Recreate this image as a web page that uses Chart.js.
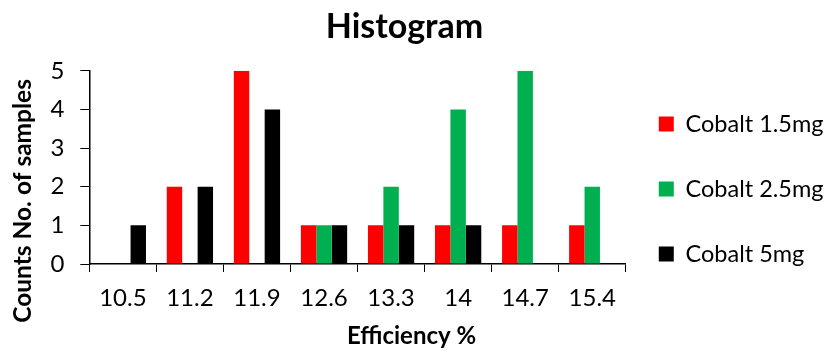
<!DOCTYPE html>
<html>
<head>
<meta charset="utf-8">
<script src="https://cdn.jsdelivr.net/npm/chart.js@4/dist/chart.umd.min.js"></script>
<style>
  html, body { margin: 0; padding: 0; background: #ffffff; }
  #wrap { width: 830px; height: 351px; }
</style>
</head>
<body>
<div id="wrap"><canvas id="c" width="830" height="351"></canvas></div>
<script>
// Efficiency bins (x categories)
const categories = ['10.5', '11.2', '11.9', '12.6', '13.3', '14', '14.7', '15.4'];

// Sample counts per bin for each cobalt loading
const cobalt15 = [0, 2, 5, 1, 1, 1, 1, 1];
const cobalt25 = [0, 0, 0, 1, 2, 4, 5, 2];
const cobalt5  = [1, 2, 4, 1, 1, 1, 0, 0];

const seriesNames = ['Cobalt 1.5mg', 'Cobalt 2.5mg', 'Cobalt 5mg'];
const yTicks = [0, 1, 2, 3, 4, 5];

const FONT = 'Lato, "Open Sans", sans-serif';
const INK = '#000000';

// Titles are centred on the whole figure rather than on the plot box,
// so they carry a little blank spacing on one side.
const EM = '\u2003', EN = '\u2002', THIN = '\u2009';

new Chart(document.getElementById('c'), {
  type: 'bar',
  data: {
    labels: categories,
    datasets: [
      { label: seriesNames[0], data: cobalt15, backgroundColor: '#FF0000' },
      { label: seriesNames[1], data: cobalt25, backgroundColor: '#00B050' },
      { label: seriesNames[2], data: cobalt5,  backgroundColor: '#000000' }
    ]
  },
  options: {
    responsive: false,
    devicePixelRatio: 1,
    animation: false,
    datasets: { bar: { categoryPercentage: 0.69, barPercentage: 1.0, borderWidth: 0 } },
    layout: { padding: { left: 1, right: -3.5, top: 0, bottom: 0 } },
    plugins: {
      tooltip: { enabled: false },
      title: {
        display: true,
        text: 'Histogram' + EN + THIN + THIN,
        color: INK,
        font: { family: FONT, size: 34, weight: 'bold', lineHeight: 1.2 },
        padding: { top: 7, bottom: 23 }
      },
      legend: {
        position: 'right',
        align: 'center',
        title: { display: true, text: '', font: { size: 10, lineHeight: 1.2 }, padding: { top: 0, bottom: 23.5 } },
        labels: {
          color: INK,
          boxWidth: 15,
          boxHeight: 15,
          padding: 33,
          font: { family: FONT, size: 23.5, lineHeight: 32 / 23.5 },
          generateLabels(chart) {
            const items = Chart.defaults.plugins.legend.labels.generateLabels(chart);
            // one-line arrays so each entry takes the font's line height
            return items.map(it => Object.assign(it, { text: [it.text], lineWidth: 0 }));
          }
        }
      }
    },
    scales: {
      x: {
        offset: true,
        grid: {
          offset: true,
          drawOnChartArea: false,
          drawTicks: true,
          tickLength: 8,
          color: INK,
          lineWidth: 1
        },
        border: { display: true, color: INK, width: 1.5 },
        ticks: {
          color: INK,
          padding: 12,
          font: { family: FONT, size: 24 }
        },
        title: {
          display: true,
          text: EM + EM + EM + EM + EM + EM + 'Efficiency %',
          color: INK,
          font: { family: FONT, size: 24, weight: 'bold' },
          padding: { top: -2.6, bottom: 0 }
        }
      },
      y: {
        min: 0,
        max: 5,
        afterBuildTicks(scale) { scale.ticks = yTicks.map(v => ({ value: v })); },
        grid: {
          drawOnChartArea: false,
          drawTicks: true,
          tickLength: 9,
          color: INK,
          lineWidth: 1
        },
        border: { display: true, color: INK, width: 1.5 },
        ticks: {
          color: INK,
          padding: 16,
          font: { family: FONT, size: 24 }
        },
        title: {
          display: true,
          text: 'Counts No. of samples' + EM + EM + EM + '  ',
          color: INK,
          font: { family: FONT, size: 24.5, weight: 'bold' },
          padding: { top: 7, bottom: -3 }
        }
      }
    }
  }
});
</script>
</body>
</html>
